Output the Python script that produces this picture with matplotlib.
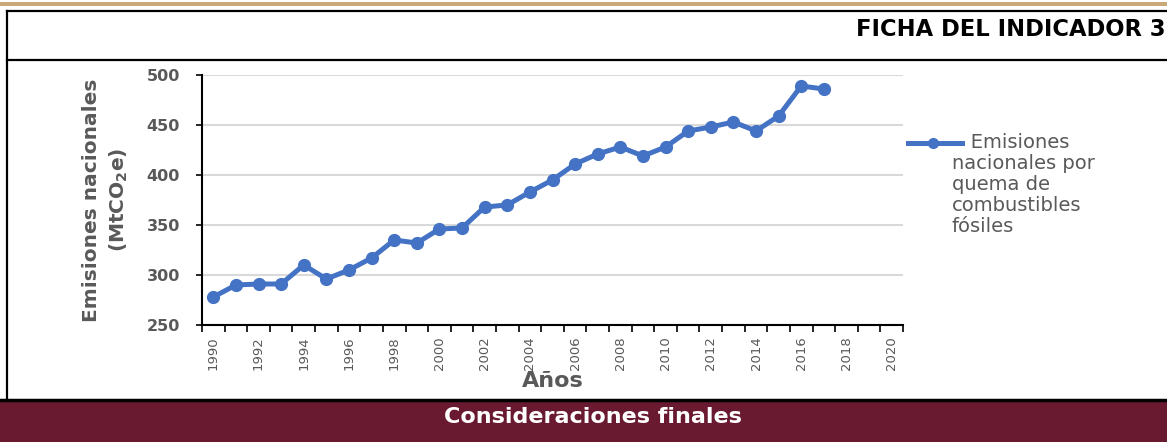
# Emisiones nacionales por quema de combustibles fósiles

import numpy as np
import matplotlib.pyplot as plt
from matplotlib.lines import Line2D
from matplotlib.patches import Rectangle

years = list(range(1990, 2018))
emisiones = [278, 290, 291, 291, 310, 296, 305, 317, 335, 332,
             346, 347, 368, 370, 383, 395, 411, 421, 428, 419,
             428, 444, 448, 453, 444, 459, 489, 486]
y_ticks = [250, 300, 350, 400, 450, 500]
x_label_years = list(range(1990, 2021, 2))
serie = 'Emisiones\nnacionales por\nquema de\ncombustibles\nfósiles'

W, H = 1167, 442
gray = '#595959'
blue = '#4472C4'
plt.rcParams['font.family'] = ['DejaVu Sans']

fig = plt.figure(figsize=(W / 100, H / 100), dpi=100)

def fx(px):
    return px / W

def fy(py):
    return 1 - py / H

# page decoration
fig.add_artist(Rectangle((0, fy(6)), 1, fy(2) - fy(6), transform=fig.transFigure,
                         color='#c9a87a', lw=0))
fig.add_artist(Rectangle((0, 0), 1, fy(400), transform=fig.transFigure,
                         color='#6a1a30', lw=0))
for y in [11, 60]:
    fig.add_artist(Line2D([fx(7), 1], [fy(y), fy(y)], transform=fig.transFigure,
                          color='black', lw=1.6))
fig.add_artist(Line2D([0, 1], [fy(400), fy(400)], transform=fig.transFigure,
                      color='black', lw=2.5))
fig.add_artist(Line2D([fx(7), fx(7)], [fy(11), fy(400)], transform=fig.transFigure,
                      color='black', lw=1.6))
fig.text(fx(1166), fy(29), 'FICHA DEL INDICADOR 3', ha='right', va='center',
         fontsize=16.3, fontweight='bold', color='black')
fig.text(fx(593), fy(417), 'Consideraciones finales', ha='center', va='center',
         fontsize=16, fontweight='bold', color='white')

# chart
ax = fig.add_axes([fx(202), fy(325), fx(903) - fx(202), fy(75) - fy(325)])
ax.plot(years, emisiones, color=blue, lw=3.6, marker='o', markersize=8.5)

ax.set_ylim(250, 500)
ax.set_yticks(y_ticks)
ax.set_yticklabels([str(v) for v in y_ticks], fontsize=11.5, fontweight='bold', color=gray)
ax.set_xlim(1989.5, 2020.5)
ax.set_xticks(np.arange(1989.5, 2021, 1))
ax.set_xticklabels([])
ax.set_xticks(x_label_years, minor=True)
ax.set_xticklabels([str(y) for y in x_label_years], minor=True, rotation=90,
                   fontsize=9.5, color=gray)
ax.tick_params(axis='x', which='major', length=5, width=1.2, color='black')
ax.tick_params(axis='x', which='minor', length=0, pad=8)
ax.tick_params(axis='y', length=4, width=1.2, color='black', pad=12)

ax.grid(axis='y', color='#d9d9d9', lw=1.5)
ax.set_axisbelow(True)
for s in ['top', 'right']:
    ax.spines[s].set_visible(False)
for s in ['left', 'bottom']:
    ax.spines[s].set_linewidth(1.5)

ax.set_ylabel('Emisiones nacionales\n(MtCO$_\\mathbf{2}$e)', fontsize=14.5,
              fontweight='bold', color=gray, labelpad=12, linespacing=1.4)
ax.set_xlabel('Años', fontsize=16, fontweight='bold', color=gray, labelpad=1)

# legend drawn beside the plot, first text line level with the sample
ax.plot([1.007, 1.084], [0.728, 0.728], transform=ax.transAxes, clip_on=False,
        color=blue, lw=3.6)
ax.plot([1.043], [0.728], transform=ax.transAxes, clip_on=False,
        color=blue, marker='o', markersize=7)
fig.text(fx(952), fy(133), '   ' + serie, ha='left', va='top', fontsize=14,
         color=gray, linespacing=1.13, transform=fig.transFigure)

fig.savefig('out.png', dpi=100)
